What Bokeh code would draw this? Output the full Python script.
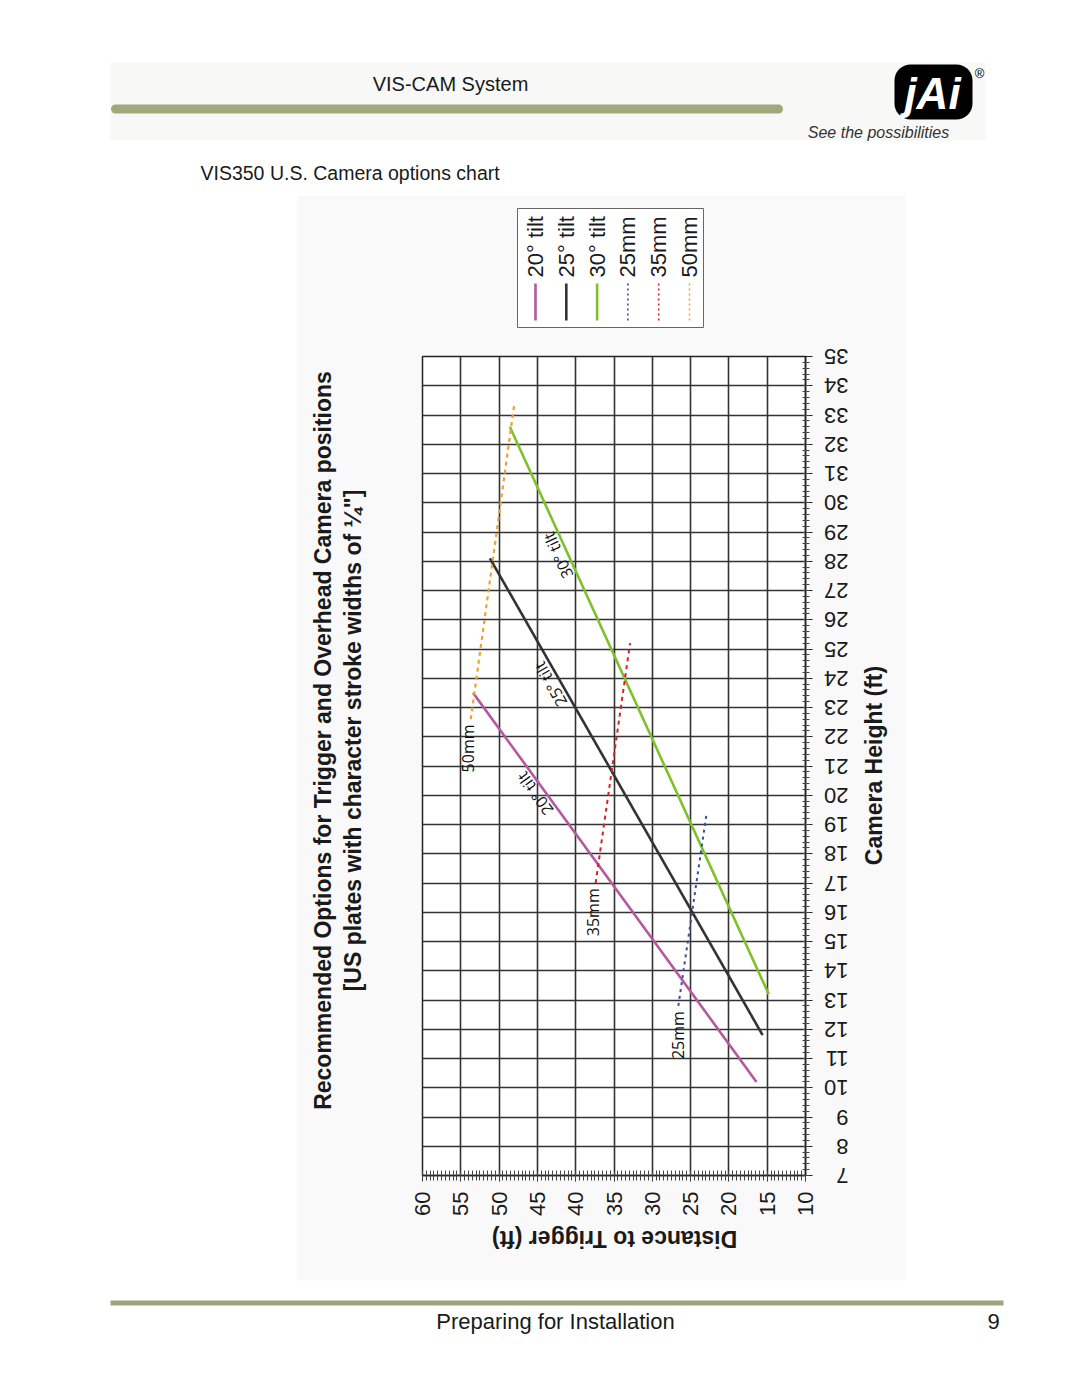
import math
import numpy as np
from bokeh.plotting import figure
from bokeh.models import Range1d, FixedTicker
from bokeh.core.properties import value
from bokeh.embed import file_html
from bokeh.resources import INLINE

# ---------------- data ----------------
series_names = ["20° tilt", "25° tilt", "30° tilt", "25mm", "35mm", "50mm"]

tilt20_dist = [53.4, 16.4]
tilt20_height = [23.5, 10.2]
tilt25_dist = [51.2, 15.6]
tilt25_height = [28.1, 11.8]
tilt30_dist = [48.6, 14.8]
tilt30_height = [32.6, 13.2]
lens25_dist = [26.6, 22.9]
lens25_height = [12.8, 19.4]
lens35_dist = [37.4, 32.9]
lens35_height = [17.0, 25.2]
lens50_dist = [53.7, 48.0]
lens50_height = [22.6, 33.4]

distance_ticks = [10, 15, 20, 25, 30, 35, 40, 45, 50, 55, 60]
height_ticks = [7, 8, 9, 10, 11, 12, 13, 14, 15, 16, 17, 18, 19, 20, 21,
                22, 23, 24, 25, 26, 27, 28, 29, 30, 31, 32, 33, 34, 35]

series_dist = [tilt20_dist, tilt25_dist, tilt30_dist, lens25_dist, lens35_dist, lens50_dist]
series_height = [tilt20_height, tilt25_height, tilt30_height, lens25_height, lens35_height, lens50_height]

# ---------------- styles ----------------
colors = ["#b4589f", "#333333", "#7fc12b", "#3b4c9e", "#d4212a", "#f0a032"]
widths = [2.6, 2.6, 2.6, 2.0, 2.0, 2.2]
dashes = ["solid", "solid", "solid", "3 4", "4 4", "4 4"]

W, H = 1080, 1397
FONT = value("Liberation Sans")
TXT = "#1a1a1a"

# ---------------- page layer (page pixel coordinates) ----------------
pg = figure(width=W, height=H, x_range=Range1d(0, W), y_range=Range1d(H, 0),
            x_axis_location=None, y_axis_location=None, min_border=0,
            toolbar_location=None, output_backend="svg", outline_line_color=None,
            styles={"position": "absolute", "left": "0px", "top": "0px"})
pg.grid.grid_line_color = None
pg.background_fill_color = "white"
pg.border_fill_color = "white"

# faint scanned-chart background
pg.quad(left=297, right=905, top=195, bottom=1280, fill_color="#f9f9f9", line_color=None)

# header
pg.quad(left=110, right=985, top=62, bottom=140, fill_color="#f8f8f6", line_color=None)
pg.text(x=[450], y=[83], text=["VIS-CAM System"], text_font=FONT, text_font_size="20px",
        text_align="center", text_baseline="middle", text_color=TXT)
pg.line([115, 778], [108.5, 108.5], line_width=9, line_color="#a3a77c", line_cap="round")


def rounded_rect(x0, x1, y0, y1, r):
    xs, ys = [], []
    corners = [(x1 - r, y0 + r, -90, 0), (x1 - r, y1 - r, 0, 90),
               (x0 + r, y1 - r, 90, 180), (x0 + r, y0 + r, 180, 270)]
    for cx, cy, a0, a1 in corners:
        for a in np.linspace(math.radians(a0), math.radians(a1), 10):
            xs.append(cx + r * math.cos(a))
            ys.append(cy + r * math.sin(a))
    return xs, ys


lx, ly = rounded_rect(894, 972, 64, 119, 16)
pg.patch(lx, ly, fill_color="black", line_color=None)
pg.text(x=[932], y=[93], text=["jAi"], text_font=FONT, text_font_style="bold italic",
        text_font_size="44px", text_color="white", text_align="center", text_baseline="middle")
pg.text(x=[979], y=[73], text=["®"], text_font=FONT, text_font_size="13px",
        text_color="black", text_align="center", text_baseline="middle")
pg.text(x=[878], y=[132], text=["See the possibilities"], text_font=FONT, text_font_style="italic",
        text_font_size="16px", text_color="#333333", text_align="center", text_baseline="middle")
pg.text(x=[200], y=[172], text=["VIS350 U.S. Camera options chart"], text_font=FONT,
        text_font_size="19.5px", text_color=TXT, text_align="left", text_baseline="middle")

# legend (turned like the chart)
pg.quad(left=517, right=703, top=208, bottom=327, fill_color="white", line_color="#666666", line_width=1)
for i, name in enumerate(series_names):
    xc = 535 + i * 30.8
    pg.line([xc, xc], [283, 320], line_color=colors[i], line_width=widths[i] if i < 3 else 1.6,
            line_dash=dashes[i] if i < 3 else "2 3")
    pg.text(x=[xc], y=[277], text=[name], angle=math.pi / 2, text_font=FONT,
            text_font_size="22px", text_color=TXT, text_align="left", text_baseline="middle")

# chart title and axis titles (turned)
pg.text(x=[322], y=[740], text=["Recommended Options for Trigger and Overhead Camera positions"],
        angle=math.pi / 2, text_font=FONT, text_font_style="bold", text_font_size="23px",
        text_color=TXT, text_align="center", text_baseline="middle")
pg.text(x=[352], y=[740], text=["[US plates with character stroke widths of ¼\"]"],
        angle=math.pi / 2, text_font=FONT, text_font_style="bold", text_font_size="23px",
        text_color=TXT, text_align="center", text_baseline="middle")
pg.text(x=[873], y=[765], text=["Camera Height (ft)"], angle=math.pi / 2, text_font=FONT,
        text_font_style="bold", text_font_size="23px", text_color=TXT,
        text_align="center", text_baseline="middle")
pg.text(x=[614], y=[1238], text=["Distance to Trigger (ft)"], angle=math.pi, text_font=FONT,
        text_font_style="bold", text_font_size="23px", text_color=TXT,
        text_align="center", text_baseline="middle")

# footer
pg.line([110, 1003], [1302.5, 1302.5], line_width=5, line_color="#a0a47a")
pg.text(x=[555], y=[1321], text=["Preparing for Installation"], text_font=FONT,
        text_font_size="22px", text_color=TXT, text_align="center", text_baseline="middle")
pg.text(x=[993], y=[1321], text=["9"], text_font=FONT,
        text_font_size="22px", text_color=TXT, text_align="center", text_baseline="middle")

# ---------------- chart layer ----------------
p = figure(width=W, height=H, x_range=Range1d(60, 10), y_range=Range1d(7, 35),
           y_axis_location="right", min_border_left=422, min_border_right=275,
           min_border_top=356, min_border_bottom=222, toolbar_location=None,
           output_backend="svg",
           styles={"position": "absolute", "left": "0px", "top": "0px"})
p.background_fill_color = "white"
p.border_fill_color = None
p.outline_line_color = "#222222"
p.outline_line_width = 1.5

p.xaxis.ticker = FixedTicker(ticks=distance_ticks,
                             minor_ticks=list(np.arange(10, 60.001, 0.5)))
p.yaxis.ticker = FixedTicker(ticks=height_ticks,
                             minor_ticks=list(np.arange(7, 35.001, 0.2)))
p.grid.grid_line_color = "#333333"
p.grid.grid_line_width = 1.6

for ax in (p.xaxis, p.yaxis):
    ax.axis_line_color = "#222222"
    ax.axis_line_width = 1.5
    ax.major_tick_line_color = "#222222"
    ax.minor_tick_line_color = "#444444"
    ax.major_label_text_font = "Liberation Sans"
    ax.major_label_text_font_size = "22px"
    ax.major_label_text_color = TXT

p.xaxis.major_tick_in = 6
p.xaxis.major_tick_out = 6
p.xaxis.minor_tick_in = 5
p.xaxis.minor_tick_out = 5
p.yaxis.major_tick_in = 5
p.yaxis.major_tick_out = 7
p.yaxis.minor_tick_in = 3
p.yaxis.minor_tick_out = 4

p.xaxis.major_label_orientation = math.pi / 2
p.yaxis.major_label_orientation = math.pi
p.xaxis.major_label_standoff = 10
p.yaxis.major_label_standoff = 36

for i in range(len(series_names)):
    p.line(series_dist[i], series_height[i], line_color=colors[i], line_width=widths[i],
           line_dash=dashes[i])

# in-chart labels
LF = value("Open Sans")
inline_labels = [("50mm", 54.05, 21.6, math.pi / 2),
                 ("35mm", 37.7, 16.0, math.pi / 2),
                 ("25mm", 26.7, 11.8, math.pi / 2),
                 ("20° tilt", 45.3, 20.06, 2.20),
                 ("25° tilt", 43.3, 23.8, 2.09),
                 ("30° tilt", 42.3, 28.2, 2.00)]
for t, x, y, a in inline_labels:
    p.text(x=[x], y=[y], text=[t], angle=a, text_font=LF, text_font_size="16px",
           text_color="#111111", text_align="center", text_baseline="middle")

open("out.html", "w").write(file_html([pg, p], INLINE))
